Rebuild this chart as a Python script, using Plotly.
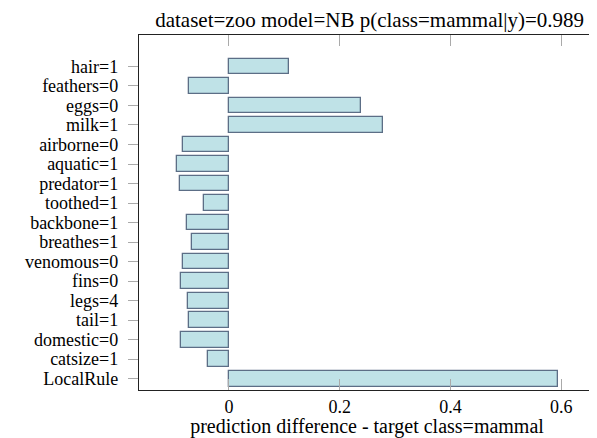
import plotly.graph_objects as go

features = ["hair=1", "feathers=0", "eggs=0", "milk=1", "airborne=0", "aquatic=1",
            "predator=1", "toothed=1", "backbone=1", "breathes=1", "venomous=0",
            "fins=0", "legs=4", "tail=1", "domestic=0", "catsize=1", "LocalRule"]
values = [0.108, -0.072, 0.239, 0.279, -0.083, -0.093, -0.089, -0.046, -0.075,
          -0.066, -0.083, -0.086, -0.074, -0.073, -0.087, -0.038, 0.595]
x_ticks = [0, 0.2, 0.4, 0.6]
x_tick_labels = ["0", "0.2", "0.4", "0.6"]

title_text = "dataset=zoo model=NB p(class=mammal|y)=0.989"
x_title = "prediction difference - target class=mammal"

FONT = "Liberation Serif, DejaVu Serif, serif"

fig = go.Figure(go.Bar(
    x=values, y=list(range(len(features))), orientation="h",
    width=0.81,
    marker=dict(color="#bfe2e7", line=dict(color="#5c6e86", width=1.3)),
))

fig.update_layout(
    width=589, height=430,
    margin=dict(l=131, r=2, t=27, b=48),
    plot_bgcolor="white", paper_bgcolor="white",
    showlegend=False,
    font=dict(family=FONT, size=18, color="black"),
    title=dict(text=title_text, x=0.614, xanchor="center", y=0.972, yanchor="middle",
               font=dict(family=FONT, size=21, color="black")),
    bargap=0,
)
fig.update_xaxes(
    range=[-0.1625, 0.661], tickvals=x_ticks, ticktext=x_tick_labels,
    ticks="inside", ticklen=11, tickcolor="#aaaaaa", tickwidth=1.2,
    showgrid=False, zeroline=False,
    showline=True, linecolor="#222222", linewidth=1.3, mirror="ticks",
    title=dict(text=x_title, standoff=2, font=dict(family=FONT, size=20)),
    tickfont=dict(family=FONT, size=18),
)
fig.update_yaxes(
    range=[16.58, -1.61], tickvals=list(range(len(features))), ticktext=features,
    ticks="outside", ticklen=10, tickcolor="#aaaaaa", tickwidth=1.2,
    ticklabelstandoff=6,
    showgrid=False, zeroline=False,
    showline=True, linecolor="#222222", linewidth=1.3, mirror=True,
    tickfont=dict(family=FONT, size=18),
)

fig.write_html("out.html")
